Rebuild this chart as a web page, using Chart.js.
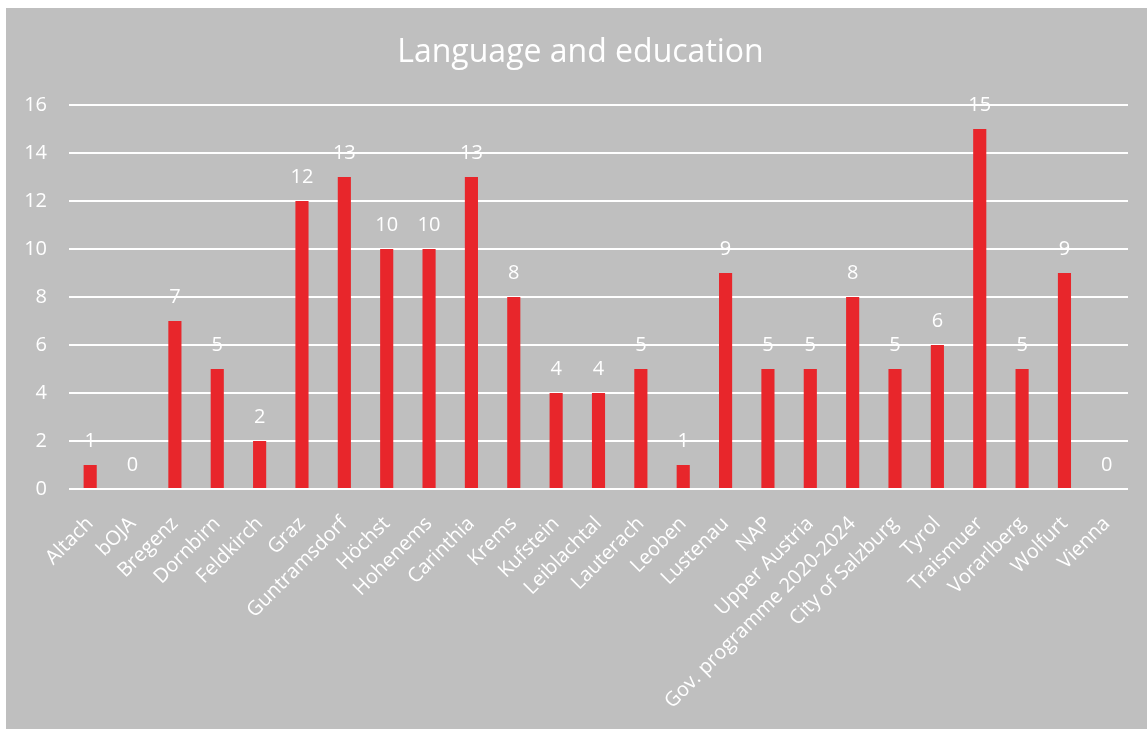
<!DOCTYPE html>
<html>
<head>
<meta charset="utf-8">
<script src="https://cdn.jsdelivr.net/npm/chart.js@4/dist/chart.umd.min.js"></script>
<style>
  html, body { margin: 0; padding: 0; background: #ffffff; }
  #wrap { position: absolute; left: 6px; top: 8px; width: 1141px; height: 721px; background: #bfbfbf; }
</style>
</head>
<body>
<div id="wrap"><canvas id="langChart"></canvas></div>
<script>
const places = [
    'Altach', 'bOJA', 'Bregenz', 'Dornbirn', 'Feldkirch', 'Graz', 'Guntramsdorf', 'Höchst',
    'Hohenems', 'Carinthia', 'Krems', 'Kufstein', 'Leiblachtal', 'Lauterach', 'Leoben', 'Lustenau',
    'NAP', 'Upper Austria', 'Gov. programme 2020-2024', 'City of Salzburg', 'Tyrol', 'Traismuer',
    'Vorarlberg', 'Wolfurt', 'Vienna',
];
const measures = [1, 0, 7, 5, 2, 12, 13, 10, 10, 13, 8, 4, 4, 5, 1, 9, 5, 5, 8, 5, 6, 15, 5, 9, 0];
const yTicks = [0, 2, 4, 6, 8, 10, 12, 14, 16];
const chartTitle = 'Language and education';

const FONT = "'Open Sans', sans-serif";

// value labels above each bar, plus the heading centred on the whole panel
const barValues = {
    id: 'barValues',
    afterDatasetsDraw(chart) {
        const ctx = chart.ctx;
        const meta = chart.getDatasetMeta(0);
        ctx.save();
        ctx.fillStyle = '#ffffff';
        ctx.font = '20px ' + FONT;
        ctx.textAlign = 'center';
        ctx.textBaseline = 'middle';
        meta.data.forEach((bar, i) => {
            ctx.fillText(String(measures[i]), bar.x, bar.y - 24);
        });

        ctx.font = '32px ' + FONT;
        ctx.textBaseline = 'alphabetic';
        ctx.fillText(chartTitle, chart.width / 2 + 4, 54);
        ctx.restore();
    },
};

new Chart(document.getElementById('langChart'), {
    type: 'bar',
    data: {
        labels: places,
        datasets: [
            {
                label: chartTitle,
                data: measures,
                backgroundColor: 'rgb(232,38,43)',
                barPercentage: 0.62,
                categoryPercentage: 0.5,
            },
        ],
    },
    options: {
        responsive: true,
        maintainAspectRatio: false,
        animation: false,
        layout: { padding: { left: 0, right: 19, top: 97, bottom: 0 } },
        plugins: {
            legend: { display: false },
            tooltip: { enabled: false },
            title: { display: false },
        },
        scales: {
            x: {
                grid: { display: false },
                border: { display: false },
                ticks: {
                    color: '#ffffff',
                    font: { family: FONT, size: 20 },
                    autoSkip: false,
                    minRotation: 45,
                    maxRotation: 45,
                    padding: 15,
                },
                afterFit(scale) {
                    scale.height = 240;
                },
            },
            y: {
                min: 0,
                max: 16,
                afterBuildTicks(scale) {
                    scale.ticks = yTicks.map((v) => ({ value: v }));
                },
                grid: { color: '#ffffff', lineWidth: 2, drawTicks: false },
                border: { display: false },
                ticks: {
                    color: '#ffffff',
                    font: { family: FONT, size: 20 },
                    padding: 22,
                },
                afterFit(scale) {
                    scale.width = 63;
                },
            },
        },
    },
    plugins: [barValues],
});
</script>
</body>
</html>
